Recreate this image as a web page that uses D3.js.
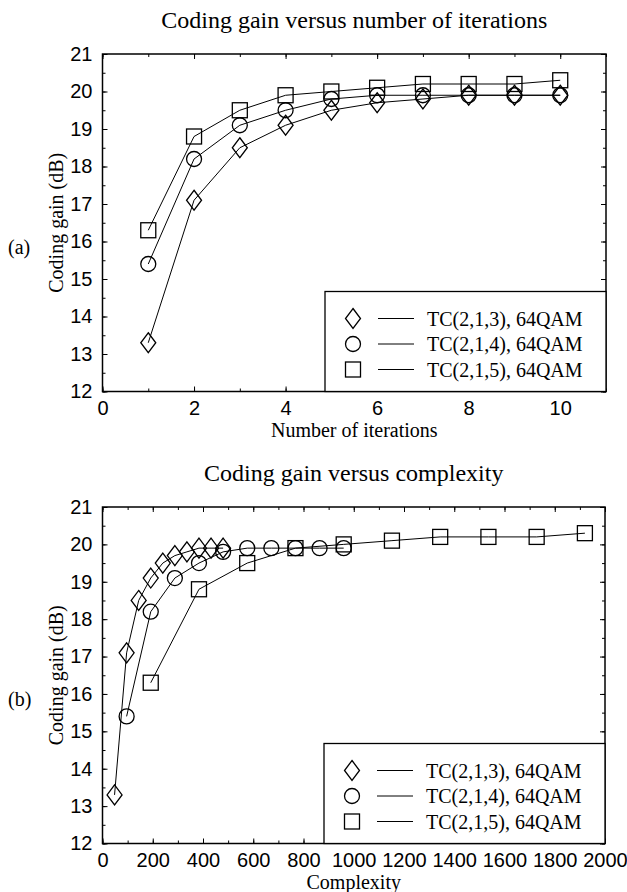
<!DOCTYPE html>
<html>
<head>
<meta charset="utf-8">
<script src="https://cdn.jsdelivr.net/npm/d3@7"></script>
<style>
  body { margin: 0; background: #fff; }
  svg { display: block; font-family: "Liberation Serif", "Times New Roman", serif; }
  .tick text { font-size: 20px; fill: #000; }
  .tick line { stroke: #000; stroke-width: 1; }
</style>
</head>
<body>
<script>
// values
const iterations = [1, 2, 3, 4, 5, 6, 7, 8, 9, 10];
const gain213 = [13.3, 17.1, 18.5, 19.1, 19.5, 19.7, 19.8, 19.9, 19.9, 19.9];
const gain214 = [15.4, 18.2, 19.1, 19.5, 19.8, 19.9, 19.9, 19.9, 19.9, 19.9];
const gain215 = [16.3, 18.8, 19.5, 19.9, 20.0, 20.1, 20.2, 20.2, 20.2, 20.3];
const complexity213 = [48, 96, 144, 192, 240, 288, 336, 384, 432, 480];
const complexity214 = [96, 192, 288, 384, 480, 576, 672, 768, 864, 960];
const complexity215 = [192, 384, 576, 768, 960, 1152, 1344, 1536, 1728, 1920];
const seriesNames = ['TC(2,1,3), 64QAM', 'TC(2,1,4), 64QAM', 'TC(2,1,5), 64QAM'];
const seriesShapes = ['diamond', 'circle', 'square'];
const gainTicks = [12, 13, 14, 15, 16, 17, 18, 19, 20, 21];

const W = 627, H = 892;
const svg = d3.select('body').append('svg').attr('width', W).attr('height', H);

function marker(g, shape, x, y) {
    if (shape === 'diamond') {
        g.append('path')
            .attr('d', `M${x},${y - 10}L${x + 7.5},${y}L${x},${y + 10}L${x - 7.5},${y}Z`);
    } else if (shape === 'circle') {
        g.append('circle').attr('cx', x).attr('cy', y).attr('r', 7.5);
    } else {
        g.append('rect').attr('x', x - 7.5).attr('y', y - 7.5).attr('width', 15).attr('height', 15);
    }
}

function drawPanel(cfg) {
    const x = d3.scaleLinear().domain(cfg.xDomain).range([cfg.left, cfg.right]);
    const y = d3.scaleLinear().domain([12, 21]).range([cfg.bottom, cfg.top]);
    const g = svg.append('g');

    // title
    g.append('text')
        .attr('x', (cfg.left + cfg.right) / 2).attr('y', cfg.top - 26)
        .attr('text-anchor', 'middle').style('font-size', '24px')
        .text(cfg.title);

    // axes (ticks point inward)
    const minorX = d3.range(cfg.xDomain[0], cfg.xDomain[1] + 1e-9, cfg.minorStep);
    const minorY = d3.range(12, 21.0001, 0.5);

    g.append('g').attr('transform', `translate(0,${cfg.bottom})`)
        .call(d3.axisBottom(x).tickValues(minorX).tickSize(-3).tickFormat(''));
    g.append('g').attr('transform', `translate(0,${cfg.bottom})`)
        .call(d3.axisBottom(x).tickValues(cfg.xTicks).tickFormat(d3.format('d'))
            .tickSizeInner(-5).tickSizeOuter(0).tickPadding(9));
    g.append('g').attr('transform', `translate(0,${cfg.top})`)
        .call(d3.axisTop(x).tickValues(minorX).tickSize(-3).tickFormat(''));
    g.append('g').attr('transform', `translate(0,${cfg.top})`)
        .call(d3.axisTop(x).tickValues(cfg.xTicks).tickSize(-5).tickFormat(''));

    g.append('g').attr('transform', `translate(${cfg.left},0)`)
        .call(d3.axisLeft(y).tickValues(minorY).tickSize(-3).tickFormat(''));
    g.append('g').attr('transform', `translate(${cfg.left},0)`)
        .call(d3.axisLeft(y).tickValues(gainTicks).tickSizeInner(-5).tickSizeOuter(0).tickPadding(10));
    g.append('g').attr('transform', `translate(${cfg.right},0)`)
        .call(d3.axisRight(y).tickValues(minorY).tickSize(-3).tickFormat(''));
    g.append('g').attr('transform', `translate(${cfg.right},0)`)
        .call(d3.axisRight(y).tickValues(gainTicks).tickSize(-5).tickFormat(''));

    g.selectAll('.domain').remove();
    g.selectAll('.tick text').attr('font-family', null);

    g.append('rect')
        .attr('x', cfg.left).attr('y', cfg.top)
        .attr('width', cfg.right - cfg.left).attr('height', cfg.bottom - cfg.top)
        .attr('fill', 'none').attr('stroke', '#000').attr('stroke-width', 1.5);

    // axis titles
    g.append('text')
        .attr('x', (cfg.left + cfg.right) / 2).attr('y', cfg.bottom + 45)
        .attr('text-anchor', 'middle').style('font-size', '20px')
        .text(cfg.xLabel);
    g.append('text')
        .attr('transform', `translate(${cfg.left - 40},${(cfg.top + cfg.bottom) / 2}) rotate(-90)`)
        .attr('text-anchor', 'middle').style('font-size', '20px')
        .text('Coding gain (dB)');
    g.append('text')
        .attr('x', 8).attr('y', (cfg.top + cfg.bottom) / 2 + 31)
        .style('font-size', '20px')
        .text(cfg.tag);

    // series
    const line = d3.line().x(d => x(d[0])).y(d => y(d[1]));
    cfg.series.forEach((s, i) => {
        const pts = s.xs.map((v, k) => [v, s.ys[k]]);
        g.append('path').datum(pts)
            .attr('d', line)
            .attr('fill', 'none').attr('stroke', '#000').attr('stroke-width', 1);
        const mg = g.append('g').attr('fill', 'none').attr('stroke', '#000').attr('stroke-width', 1.3);
        pts.forEach(p => marker(mg, seriesShapes[i], x(p[0]), y(p[1])));
    });

    // legend
    const lx = cfg.right - 281, ly = cfg.bottom - 100;
    g.append('rect')
        .attr('x', lx).attr('y', ly).attr('width', cfg.right - lx).attr('height', cfg.bottom - ly)
        .attr('fill', '#fff').attr('stroke', '#000').attr('stroke-width', 1.3);
    seriesNames.forEach((name, i) => {
        const ry = ly + 27 + i * 25.5;
        const mg = g.append('g').attr('fill', 'none').attr('stroke', '#000').attr('stroke-width', 1.3);
        marker(mg, seriesShapes[i], lx + 28, ry);
        g.append('line')
            .attr('x1', lx + 53).attr('x2', lx + 89).attr('y1', ry).attr('y2', ry)
            .attr('stroke', '#000').attr('stroke-width', 1);
        g.append('text')
            .attr('x', lx + 102).attr('y', ry + 7)
            .style('font-size', '20px')
            .text(name);
    });
}

drawPanel({
    title: 'Coding gain versus number of iterations',
    tag: '(a)',
    xLabel: 'Number of iterations',
    xDomain: [0, 11],
    xTicks: [0, 2, 4, 6, 8, 10],
    minorStep: 1,
    left: 102.5, right: 606, top: 54, bottom: 391.5,
    series: [
        { xs: iterations, ys: gain213 },
        { xs: iterations, ys: gain214 },
        { xs: iterations, ys: gain215 }
    ]
});

drawPanel({
    title: 'Coding gain versus complexity',
    tag: '(b)',
    xLabel: 'Complexity',
    xDomain: [0, 2000],
    xTicks: d3.range(0, 2001, 200),
    minorStep: 100,
    left: 102.5, right: 605, top: 507, bottom: 843.5,
    series: [
        { xs: complexity213, ys: gain213 },
        { xs: complexity214, ys: gain214 },
        { xs: complexity215, ys: gain215 }
    ]
});
</script>
</body>
</html>
